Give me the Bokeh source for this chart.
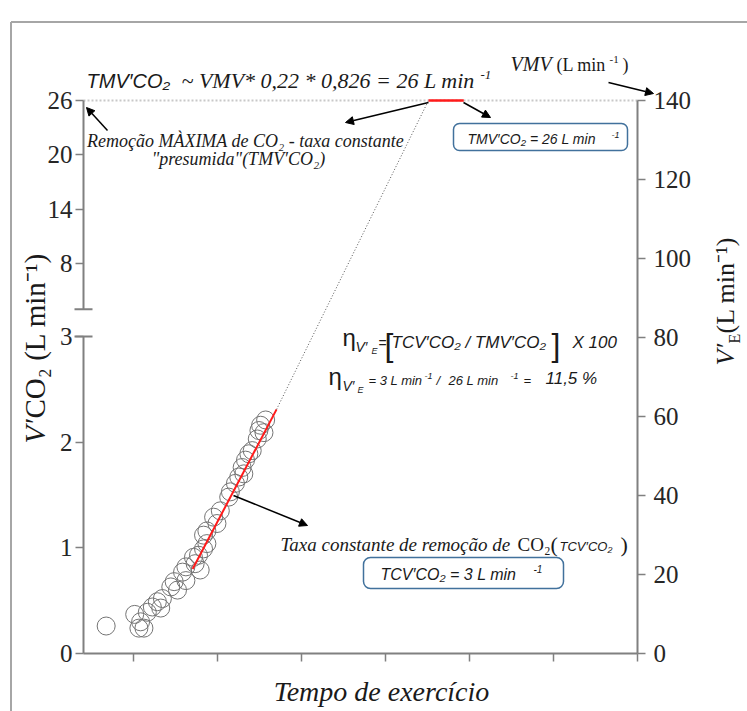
import math
from bokeh.plotting import figure
from bokeh.models import (Range1d, LinearAxis, FixedTicker, Label, Arrow,
                          NormalHead, TeeHead, BoxAnnotation)
from bokeh.embed import file_html
from bokeh.resources import INLINE

# ---------------- data ----------------
time_pts = [0.67, 1.01, 1.06, 1.08, 1.12, 1.16, 1.22, 1.28, 1.32, 1.34, 1.44,
            1.48, 1.52, 1.58, 1.62, 1.62, 1.71, 1.73, 1.77, 1.79, 1.83, 1.83,
            1.87, 1.87, 1.95, 1.99, 2.03, 2.13, 2.15, 2.21, 2.25, 2.29, 2.31,
            2.33, 2.37, 2.41, 2.47, 2.49, 2.51, 2.55, 2.57]
vco2_pts = [0.26, 0.37, 0.24, 0.30, 0.24, 0.39, 0.44, 0.49, 0.43, 0.52, 0.63,
            0.68, 0.60, 0.77, 0.82, 0.69, 0.91, 0.85, 0.93, 0.79, 0.99, 1.12,
            1.04, 1.16, 1.29, 1.23, 1.35, 1.48, 1.53, 1.61, 1.67, 1.76, 1.70,
            1.83, 1.89, 1.92, 2.03, 2.11, 2.16, 2.09, 2.21]
fit_time = [1.70, 2.70]
fit_vco2 = [0.80, 2.31]
extrap_time = [2.70, 4.51]
tmv_time = [4.51, 4.93]
tmv_vco2 = 26            # TMV'CO2, L/min (upper scale)
lower_ticks = [0, 1, 2, 3]
upper_ticks = [8, 14, 20, 26]
upper_start = 3          # value where the upper (broken) scale starts
ve_ticks = [0, 20, 40, 60, 80, 100, 120, 140]
time_ticks = [1, 2, 3, 4, 5, 6, 7]

# ---------------- scales / layout ----------------
X_START, X_END = 0.4, 7.0
Y_TOP = 5.233
LOWER_MAX = lower_ticks[-1]
VE_MAX = ve_ticks[-1]


def upper_pos(u):
    return round(LOWER_MAX + u * (Y_TOP - LOWER_MAX) / upper_ticks[-1], 6)


W, H = 747, 711
FL, FR, FT, FB = 83, 637, 100, 653       # plot area on the canvas (px)
SX = (FR - FL) / (X_END - X_START)
SY = (FB - FT) / Y_TOP
SVE = (FB - FT) / VE_MAX


def dx(px):
    return X_START + (px - FL) / SX


def dy(py):
    return (FB - py) / SY


SERIF = "Liberation Serif"
SANS = "Liberation Sans"
GRAY = "#808080"
TXT = "#1a1a1a"

p = figure(width=W, height=H,
           x_range=Range1d(dx(0), dx(W)), y_range=Range1d(dy(H), dy(0)),
           x_axis_location=None, y_axis_location=None,
           output_backend="svg", toolbar_location=None)
p.min_border = 0
p.title.visible = False
p.extra_y_ranges = {"ve": Range1d(-(H - FB) / SVE, FB / SVE)}
p.xgrid.visible = False
p.ygrid.visible = False
p.outline_line_color = None
p.background_fill_color = "white"
p.border_fill_color = "white"


def style_axis(ax, label_size="25px", standoff=3):
    ax.major_tick_line_color = GRAY
    ax.major_tick_line_width = 1.5
    ax.major_tick_out = 8
    ax.major_tick_in = 0
    ax.minor_tick_line_color = None
    ax.major_label_text_font = SERIF
    ax.major_label_text_font_size = label_size
    ax.major_label_text_color = "#262626"
    ax.major_label_standoff = standoff


# x axis
xa = LinearAxis(fixed_location=0, bounds=(X_START, X_END),
                ticker=FixedTicker(ticks=time_ticks))
style_axis(xa)
xa.major_label_overrides = {t: "" for t in time_ticks}
xa.axis_line_color = GRAY
xa.axis_line_width = 2
p.add_layout(xa, "below")

# left axis (broken)
ya = LinearAxis(fixed_location=X_START, bounds=(0, Y_TOP),
                ticker=FixedTicker(ticks=lower_ticks +
                                   [upper_pos(u) for u in upper_ticks]))
style_axis(ya, "25px", 3)
ya.major_label_overrides = {upper_pos(u): str(u) for u in upper_ticks}
ya.axis_line_color = None
p.add_layout(ya, "left")

# right axis
ra = LinearAxis(y_range_name="ve", fixed_location=X_END, bounds=(0, VE_MAX),
                ticker=FixedTicker(ticks=ve_ticks))
style_axis(ra, "25px", 8)
ra.axis_line_color = GRAY
ra.axis_line_width = 2
p.add_layout(ra, "right")

# broken left axis line
p.add_layout(Arrow(x_start=X_START, y_start=0, x_end=X_START, y_end=LOWER_MAX,
                   start=None,
                   end=TeeHead(size=18, line_color=GRAY, line_width=2),
                   line_color=GRAY, line_width=2))
p.add_layout(Arrow(x_start=X_START, y_start=upper_pos(upper_start),
                   x_end=X_START, y_end=Y_TOP,
                   start=TeeHead(size=18, line_color=GRAY, line_width=2),
                   end=None, line_color=GRAY, line_width=2))

# dotted maximum line (26 L/min = 140 L/min level)
p.segment(x0=[X_START], y0=[upper_pos(tmv_vco2)], x1=[X_END],
          y1=[upper_pos(tmv_vco2)], line_color="#c8c8c8", line_width=2,
          line_dash="2 2")

# data
p.scatter(time_pts, vco2_pts, size=18, fill_color=None,
          line_color="#747474", line_width=1)
p.line(fit_time, fit_vco2, line_color="#ff1a1a", line_width=2)
p.line(extrap_time, [fit_vco2[-1], upper_pos(tmv_vco2)],
       line_color="#555555", line_width=1, line_dash="1 2")
p.line(tmv_time, [upper_pos(tmv_vco2)] * 2, line_color="#ff1a1a",
       line_width=2.5)

# page border
for (x0, y0, x1, y1) in [(10.5, H, 10.5, 21.5), (10.5, 21.5, W, 21.5)]:
    p.add_layout(Arrow(x_start=dx(x0), y_start=dy(y0), x_end=dx(x1),
                       y_end=dy(y1), start=None, end=None,
                       line_color="#a6a6a6", line_width=2))

BASE_SHIFT = 0.33   # correction so that (px, py) is the visual baseline


def lab(px, py, text, size, font=SERIF, style="italic", angle=0,
        align="left", color=TXT):
    sx = px - BASE_SHIFT * size * math.sin(angle)
    sy = py - BASE_SHIFT * size * math.cos(angle)
    p.add_layout(Label(x=dx(sx), y=dy(sy), text=text,
                       text_font=font, text_font_style=style,
                       text_font_size=f"{size}px", angle=angle,
                       text_align=align, text_baseline="alphabetic",
                       text_color=color))


def arrow(x0, y0, x1, y1, size=8):
    p.add_layout(Arrow(x_start=dx(x0), y_start=dy(y0), x_end=dx(x1),
                       y_end=dy(y1), start=None,
                       end=NormalHead(size=size, fill_color="black",
                                      line_color="black", line_width=1),
                       line_color="black", line_width=1.5))


def box(l, t, r, b, radius):
    p.add_layout(BoxAnnotation(left=dx(l), right=dx(r), top=dy(t),
                               bottom=dy(b), fill_alpha=0, line_alpha=1,
                               line_color="#41719c", line_width=1.5,
                               border_radius=radius))


# axis titles
R90 = math.pi / 2
lab(44, 443, "V′", 29, SERIF, "italic", angle=R90)
lab(44, 418, "CO₂ (L min⁻¹)", 29, SERIF, "normal", angle=R90)

lab(734, 365, "V′", 26, SERIF, "italic", angle=R90)
lab(739, 343, "E", 16, SERIF, "normal", angle=R90)
lab(734, 333, " (L min⁻¹)", 26, SERIF, "normal", angle=R90)

lab(381, 700, "Tempo de exercício", 28, SERIF, "italic", align="center")

# top formula
lab(86, 87, "TMV′CO₂", 20, SANS, "italic")
lab(181, 87, "~ VMV* 0,22 * 0,826 = 26 L min", 22, SERIF, "italic")
lab(480, 79, "-1", 13, SERIF, "italic")

# VMV label
lab(510, 70, "VMV", 20, SERIF, "italic")
lab(556, 70, "(L min", 18, SERIF, "normal")
lab(609, 63, "-1", 11, SERIF, "normal")
lab(622, 70, ")", 18, SERIF, "normal")
arrow(608, 82, 653, 93)

# maximum removal note
lab(245, 146, "Remoção MÀXIMA de CO₂ - taxa constante", 18, SERIF, "italic",
    align="center")
lab(238, 164, "\"presumida\"(TMV′CO₂)", 18, SERIF, "italic", align="center")
arrow(107, 130, 86, 107)
arrow(428, 102, 345, 122)
arrow(463, 102, 490, 117)

# TMV box
box(453, 123, 627, 150, 6)
lab(467, 143, "TMV′CO₂ = 26 L min", 14, SANS, "italic")
lab(611, 137, "-1", 9, SANS, "italic")

# efficiency formulas
lab(342, 345, "η", 24, SANS, "normal")
lab(355, 351, "V′", 14, SANS, "italic")
lab(371, 353, "E", 9, SANS, "italic")
lab(378, 347, "=", 14, SANS, "normal")
lab(384, 355, "[", 32, SANS, "normal")
lab(391, 348, "TCV′CO₂ / TMV′CO₂", 17, SANS, "italic")
lab(551, 355, "]", 32, SANS, "normal")
lab(572, 348, "X 100", 17, SANS, "italic")

lab(328, 384, "η", 24, SANS, "normal")
lab(342, 390, "V′", 14, SANS, "italic")
lab(357, 392, "E", 9, SANS, "italic")
lab(368, 384, "= 3 L min", 13, SANS, "italic")
lab(424, 378, "-1", 9, SANS, "italic")
lab(436, 384, "/", 13, SANS, "italic")
lab(448, 384, "26 L min", 13, SANS, "italic")
lab(510, 378, "-1", 9, SANS, "italic")
lab(523, 384, "=", 13, SANS, "italic")
lab(545, 384, "11,5 %", 17, SANS, "italic")

# constant rate note
arrow(233, 495, 307, 525)
lab(280, 550, "Taxa constante de remoção de", 19, SERIF, "italic")
lab(517, 550, "CO₂", 19, SERIF, "normal")
lab(550, 551, "(", 22, SERIF, "normal")
lab(559, 550, "TCV′CO₂", 13, SANS, "italic")
lab(620, 551, ")", 22, SERIF, "normal")

box(363, 557, 563, 588, 7)
lab(380, 579, "TCV′CO₂ = 3 L min", 16, SANS, "italic")
lab(533, 572, "-1", 10, SANS, "italic")

open("out.html", "w").write(file_html(p, INLINE))
